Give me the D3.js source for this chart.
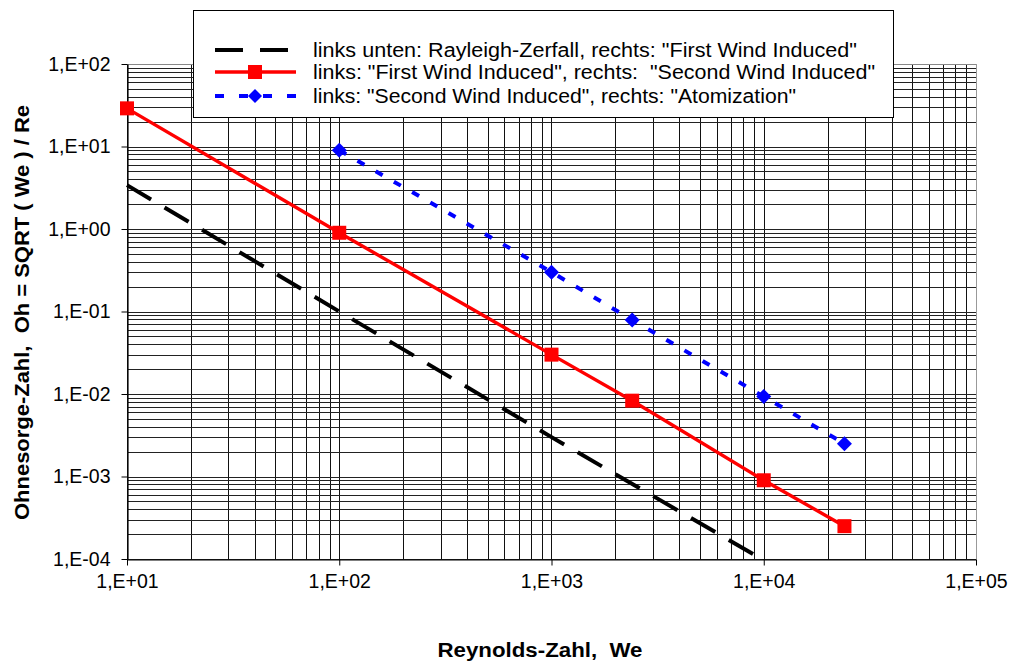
<!DOCTYPE html>
<html><head><meta charset="utf-8">
<script src="https://cdn.jsdelivr.net/npm/d3@7"></script>
<style>body{margin:0;background:#fff}svg{display:block}text{font-family:"Liberation Sans",Arial,sans-serif;white-space:pre}</style>
</head><body>
<svg id="c" width="1013" height="663"></svg>
<script>
const xTicks = [1e1, 1e2, 1e3, 1e4, 1e5];
const yTicks = [1e-4, 1e-3, 1e-2, 1e-1, 1e0, 1e1, 1e2];
const rayleighRe = [10, 100, 1000, 8900];
const rayleighOh = [3.4, 0.1, 0.003, 0.000115];
const firstWindRe = [10, 100, 1000, 2400, 10000, 24000];
const firstWindOh = [29, 0.9, 0.03, 0.0083, 0.0009, 0.00025];
const secondWindRe = [100, 1000, 2400, 10000, 24000];
const secondWindOh = [9, 0.3, 0.079, 0.0093, 0.0025];
const legendLabels = [
  'links unten: Rayleigh-Zerfall, rechts: "First Wind Induced"',
  'links: "First Wind Induced", rechts:  "Second Wind Induced"',
  'links: "Second Wind Induced", rechts: "Atomization"'
];
const xTitle = "Reynolds-Zahl,  We";
const yTitle = "Ohnesorge-Zahl,  Oh = SQRT ( We ) / Re";

const svg = d3.select("#c");
const L = 127, R = 976, T = 64, B = 559;
const x = d3.scaleLog().domain([1e1, 1e5]).range([L, R]);
const y = d3.scaleLog().domain([1e-4, 1e2]).range([B, T]);
const fmt = v => { const e = Math.round(Math.log10(v)); return "1,E" + (e < 0 ? "-" : "+") + String(Math.abs(e)).padStart(2, "0"); };

// gridlines
const xGrid = [], yGrid = [];
for (let e = 1; e < 5; e++) for (let k = 1; k <= 9; k++) xGrid.push(k * Math.pow(10, e));
for (let e = -4; e < 2; e++) for (let k = 1; k <= 9; k++) yGrid.push(k * Math.pow(10, e));
const g = svg.append("g").attr("shape-rendering", "crispEdges");
g.selectAll(".gx").data(xGrid).join("line")
  .attr("x1", d => Math.round(x(d)) + 0.5).attr("x2", d => Math.round(x(d)) + 0.5)
  .attr("y1", T).attr("y2", B).attr("stroke", "#111").attr("stroke-width", 1);
g.selectAll(".gy").data(yGrid.concat([1e2])).join("line")
  .attr("y1", d => Math.round(y(d)) + 0.5).attr("y2", d => Math.round(y(d)) + 0.5)
  .attr("x1", L).attr("x2", R).attr("stroke", d => d === 1e2 ? "#888" : "#222").attr("stroke-width", 1);
g.append("line").attr("x1", R + 0.5).attr("x2", R + 0.5).attr("y1", T).attr("y2", B).attr("stroke", "#999");

// axes
const xAxis = d3.axisBottom(x).tickValues(xTicks).tickFormat(fmt).tickSize(6).tickSizeOuter(0);
const yAxis = d3.axisLeft(y).tickValues(yTicks).tickFormat(fmt).tickSize(6).tickSizeOuter(0);
const gx = svg.append("g").attr("transform", `translate(0,${B + 0.5})`).call(xAxis);
const gy = svg.append("g").attr("transform", `translate(${L + 0.5},0)`).call(yAxis);
[gx, gy].forEach(a => {
  a.select(".domain").attr("stroke", "#000").attr("stroke-width", 1.2);
  a.selectAll(".tick line").attr("stroke", "#000");
  a.selectAll("text").attr("font-size", 19.5).attr("fill", "#000").attr("font-family", '"Liberation Sans",Arial,sans-serif');
});
gx.selectAll("text").attr("dy", 0).attr("y", 28);
gy.selectAll("text").attr("x", -17);

// axis titles
svg.append("text").attr("x", 540).attr("y", 657).attr("text-anchor", "middle")
  .attr("font-size", 20).attr("font-weight", "bold")
  .attr("textLength", 205).attr("lengthAdjust", "spacingAndGlyphs").text(xTitle);
svg.append("text").attr("transform", "translate(29,312.5) rotate(-90)").attr("text-anchor", "middle")
  .attr("font-size", 20).attr("font-weight", "bold")
  .attr("textLength", 415).attr("lengthAdjust", "spacingAndGlyphs").text(yTitle);

// series
const line = d3.line().x(d => x(d[0])).y(d => y(d[1]));
const ray = rayleighRe.map((r, i) => [r, rayleighOh[i]]);
const fw = firstWindRe.map((r, i) => [r, firstWindOh[i]]);
const sw = secondWindRe.map((r, i) => [r, secondWindOh[i]]);

const lg = svg.append("g");
lg.append("rect").attr("x", 193.5).attr("y", 10.5).attr("width", 700).attr("height", 107)
  .attr("fill", "#fff").attr("stroke", "#000").attr("stroke-width", 1);

const rp = svg.append("path").datum(ray).attr("d", line).attr("fill", "none").attr("stroke", "#000")
  .attr("stroke-width", 4);
const rl = rp.node().getTotalLength();
const nDash = Math.round((rl - 28) / 43);
const gap = (rl - 28) / nDash - 28;
rp.attr("stroke-dasharray", `28,${gap}`);
svg.append("path").datum(fw).attr("d", line).attr("fill", "none").attr("stroke", "#ff0000").attr("stroke-width", 3.4);
svg.append("path").datum(sw).attr("d", line).attr("fill", "none").attr("stroke", "#0000ff")
  .attr("stroke-width", 4).attr("stroke-dasharray", "8,13");
svg.selectAll(".sq").data(fw).join("rect").attr("x", d => x(d[0]) - 7).attr("y", d => y(d[1]) - 7)
  .attr("width", 14).attr("height", 14).attr("fill", "#ff0000");
svg.selectAll(".dm").data(sw).join("path")
  .attr("d", d => `M${x(d[0])},${y(d[1]) - 7.5}L${x(d[0]) + 7.5},${y(d[1])}L${x(d[0])},${y(d[1]) + 7.5}L${x(d[0]) - 7.5},${y(d[1])}Z`)
  .attr("fill", "#0000ff");

// legend entries
const ly = [50, 72, 96];
const lw = [544, 562, 483];
lg.append("line").attr("x1", 215).attr("x2", 288).attr("y1", ly[0]).attr("y2", ly[0])
  .attr("stroke", "#000").attr("stroke-width", 4).attr("stroke-dasharray", "28,17");
lg.append("line").attr("x1", 215).attr("x2", 296).attr("y1", ly[1]).attr("y2", ly[1])
  .attr("stroke", "#ff0000").attr("stroke-width", 3.4);
lg.append("rect").attr("x", 248).attr("y", ly[1] - 7).attr("width", 14).attr("height", 14).attr("fill", "#ff0000");
lg.append("line").attr("x1", 215).attr("x2", 296).attr("y1", ly[2]).attr("y2", ly[2])
  .attr("stroke", "#0000ff").attr("stroke-width", 4).attr("stroke-dasharray", "9,15");
lg.append("path").attr("d", `M255,${ly[2] - 7}L262,${ly[2]}L255,${ly[2] + 7}L248,${ly[2]}Z`).attr("fill", "#0000ff");
lg.selectAll(".lt").data(legendLabels).join("text")
  .attr("x", 313).attr("y", (d, i) => ly[i] + 6.5).attr("font-size", 20).attr("fill", "#000")
  .attr("textLength", (d, i) => lw[i]).attr("lengthAdjust", "spacingAndGlyphs").text(d => d);
</script>
</body></html>
